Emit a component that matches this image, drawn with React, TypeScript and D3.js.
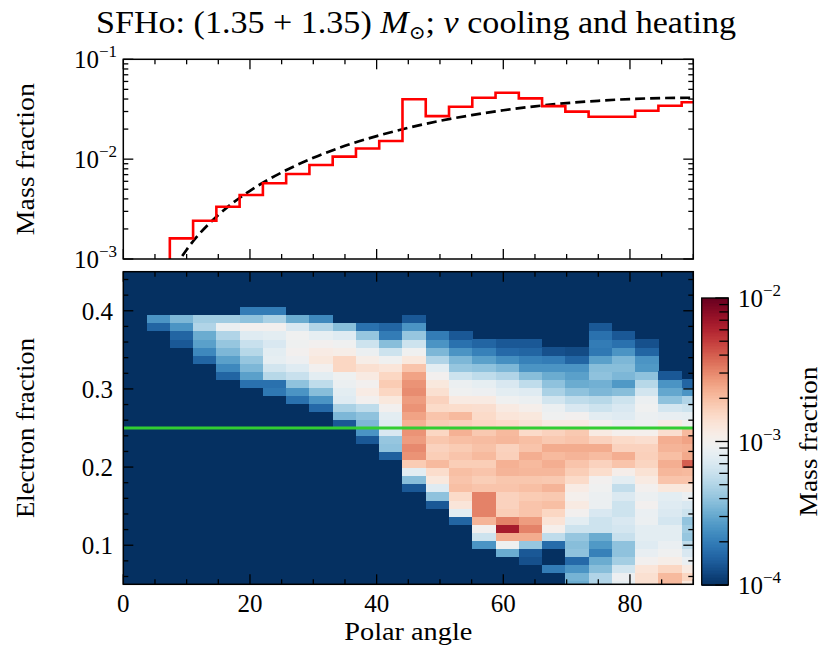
import React from 'react';
import * as d3 from 'd3';

// ---------- data ----------
const angleMajorTicks = [0, 20, 40, 60, 80];
const yeMajorTicks = [0.1, 0.2, 0.3, 0.4];
const angleBinWidth = 180 / 49; // degrees per polar-angle bin
const yeBinWidth = 0.0103;
const yeBinOffset = 0.0031;
const yeCut = 0.25;

// top panel: mass fraction per polar-angle bin (histogram)
const histMass = [
  1e-5, 4e-4, 1.61e-3, 2.42e-3, 3.34e-3, 4.37e-3, 5.73e-3, 7.1e-3, 8.73e-3, 1.06e-2,
  1.28e-2, 1.52e-2, 3.98e-2, 2.7e-2, 3.35e-2, 4.12e-2, 4.62e-2, 4.06e-2, 3.4e-2, 2.99e-2,
  2.66e-2, 2.66e-2, 3.05e-2, 3.43e-2, 3.71e-2,
];

// top panel: dashed reference curve (angle, mass fraction)
const fitAngle = [8, 9, 10, 12, 15, 20, 25, 30, 35, 40, 45, 50, 55, 60, 65, 70, 75, 80, 85, 90];
const fitMass = [
  8.0e-4, 1.0e-3, 1.24e-3, 1.78e-3, 2.76e-3, 4.82e-3, 7.36e-3, 1.03e-2, 1.36e-2, 1.7e-2,
  2.06e-2, 2.42e-2, 2.76e-2, 3.09e-2, 3.38e-2, 3.64e-2, 3.84e-2, 4.0e-2, 4.09e-2, 4.12e-2,
];

// bottom panel: first Ye-bin index per angle column, then log10(mass fraction) going up
const heatStart = [37, 36, 34, 32, 30, 29, 28, 27, 26, 24, 22, 20, 16, 14, 12, 9, 8, 7, 6, 4, 4, 4, 4, 4, 4];
const heatLog = [
  [],
  [-3.8, -3.6],
  [-3.85, -3.8, -3.6, -3.45],
  [-3.8, -3.65, -3.55, -3.5, -3.3, -3.35],
  [-3.8, -3.65, -3.55, -3.45, -3.38, -3.3, -3.05, -3.35],
  [-3.75, -3.55, -3.45, -3.38, -3.28, -3.22, -3.12, -3.0, -3.4, -3.7],
  [-3.72, -3.75, -3.28, -3.18, -3.08, -3.1, -3.15, -3.1, -3.0, -3.32, -3.7],
  [-3.75, -3.6, -3.4, -3.22, -3.12, -3.04, -3.0, -3.03, -3.02, -3.15, -3.5],
  [-3.78, -3.6, -3.42, -3.25, -3.1, -3.0, -2.9, -2.93, -3.0, -3.08, -3.3, -3.65],
  [-3.85, -3.45, -3.32, -3.12, -3.1, -3.05, -3.03, -2.8, -2.8, -2.95, -3.02, -3.12, -3.42],
  [-3.85, -3.6, -3.45, -3.4, -3.25, -3.0, -2.93, -3.0, -2.92, -2.85, -2.95, -3.05, -3.2, -3.38, -3.75],
  [-3.82, -3.4, -3.38, -3.15, -3.12, -3.1, -3.0, -2.9, -2.8, -2.75, -2.8, -2.88, -3.02, -3.2, -3.42, -3.7, -3.8],
  [-3.85, -3.42, -3.1, -2.75, -2.55, -2.52, -2.58, -2.55, -2.65, -2.6, -2.55, -2.58, -2.53, -2.55, -2.6, -2.72, -2.9, -3.02, -3.2, -3.38, -3.6, -3.85],
  [-3.85, -3.4, -3.12, -2.9, -2.83, -2.68, -2.76, -2.78, -2.73, -2.8, -2.75, -2.72, -2.82, -2.78, -2.85, -2.9, -3.0, -3.1, -3.3, -3.45, -3.6, -3.7],
  [-3.8, -3.1, -2.88, -2.82, -2.7, -2.72, -2.7, -2.76, -2.72, -2.75, -2.7, -2.65, -2.77, -2.68, -2.83, -2.92, -3.02, -3.05, -3.2, -3.38, -3.45, -3.6, -3.75, -3.85],
  [-3.6, -3.2, -3.0, -2.66, -2.5, -2.5, -2.5, -2.72, -2.76, -2.72, -2.76, -2.68, -2.71, -2.69, -2.74, -2.8, -2.82, -2.84, -2.92, -3.04, -3.08, -3.25, -3.4, -3.55, -3.68, -3.8],
  [-3.5, -3.03, -2.63, -2.18, -2.5, -2.76, -2.78, -2.78, -2.72, -2.73, -2.66, -2.65, -2.77, -2.78, -2.67, -2.68, -2.82, -2.88, -2.92, -3.02, -3.1, -3.15, -3.3, -3.45, -3.62, -3.78, -3.85],
  [-3.88, -3.85, -3.38, -2.63, -2.5, -2.58, -2.72, -2.72, -2.75, -2.7, -2.73, -2.67, -2.68, -2.64, -2.72, -2.7, -2.82, -2.86, -2.9, -2.97, -3.05, -3.12, -3.25, -3.42, -3.6, -3.68, -3.8, -3.85],
  [-3.7, -4.2, -4.2, -3.77, -3.25, -2.97, -2.87, -2.8, -2.7, -2.74, -2.66, -2.74, -2.67, -2.64, -2.68, -2.63, -2.74, -2.78, -2.92, -3.02, -3.05, -3.18, -3.32, -3.4, -3.5, -3.6, -3.7, -3.88],
  [-3.5, -3.47, -3.6, -3.78, -3.4, -3.42, -3.38, -3.2, -3.1, -3.0, -2.92, -2.98, -2.93, -2.82, -2.76, -2.72, -2.66, -2.63, -2.72, -2.74, -2.92, -3.0, -3.15, -3.25, -3.4, -3.5, -3.55, -3.6, -3.8, -3.9],
  [-3.3, -3.3, -3.42, -3.5, -3.68, -3.58, -3.5, -3.2, -3.2, -3.15, -3.05, -3.05, -3.02, -3.0, -2.83, -2.78, -2.69, -2.63, -2.78, -2.92, -3.0, -3.1, -3.2, -3.28, -3.45, -3.48, -3.4, -3.42, -3.55, -3.72, -3.7, -3.75, -3.85],
  [-3.08, -3.04, -3.18, -3.34, -3.4, -3.4, -3.22, -3.17, -3.15, -3.2, -3.2, -3.14, -3.24, -3.1, -2.96, -2.72, -2.64, -2.78, -2.82, -2.98, -3.06, -3.12, -3.15, -3.2, -3.42, -3.58, -3.45, -3.42, -3.45, -3.6, -3.75, -3.85],
  [-2.85, -2.85, -2.88, -3.0, -3.07, -3.12, -3.1, -3.1, -3.05, -3.06, -3.0, -3.05, -3.0, -2.92, -2.86, -2.79, -2.77, -2.78, -2.84, -2.98, -3.03, -3.05, -3.02, -3.05, -3.18, -3.28, -3.4, -3.58, -3.6, -3.8, -3.88],
  [-2.68, -2.68, -2.8, -2.95, -3.02, -3.06, -3.1, -3.1, -3.17, -3.14, -3.12, -3.1, -2.9, -2.72, -2.67, -2.64, -2.7, -2.66, -2.64, -2.84, -2.93, -3.07, -3.17, -3.4, -3.52, -3.6, -3.85],
  [-2.9, -2.8, -2.92, -3.06, -3.15, -3.25, -3.38, -3.35, -3.39, -3.2, -3.15, -3.05, -2.9, -2.72, -2.68, -2.4, -2.62, -2.65, -2.6, -2.68, -3.02, -3.08, -3.2, -3.3, -3.6, -3.8],
];

// colour scale range (log10 of mass fraction)
const colorExpRange = [-4, -2];

// ---------- layout ----------
const W = 823;
const H = 648;
const FONT = "'Liberation Serif', 'DejaVu Serif', serif";
const FS = 25;
const SUP = 17;
const X0 = 123.3;
const X1 = 693.3;
const TOP = { t: 59.3, b: 259 };
const BOT = { t: 271.7, b: 584.3 };
const CB = { l: 701.7, r: 728.3, t: 298, b: 585 };
const MAJ = 10;
const MIN = 5;

function Pow10({ x, y, exp, anchor = 'end' }: { x: number; y: number; exp: number; anchor?: string }) {
  return (
    <text x={x} y={y} fontSize={FS} textAnchor={anchor} fontFamily={FONT}>
      10
      <tspan dy={-11} fontSize={SUP}>{'\u2212' + Math.abs(exp)}</tspan>
    </text>
  );
}

export default function App() {
  const x = d3.scaleLinear().domain([0, 90]).range([X0, X1]);
  const yTop = d3.scaleLog().domain([1e-3, 1e-1]).range([TOP.b, TOP.t]);
  const yBot = d3.scaleLinear().domain([0.05, 0.45]).range([BOT.b, BOT.t]);
  const yCb = d3.scaleLinear().domain(colorExpRange).range([CB.b, CB.t]);
  const color = (lv: number) =>
    d3.interpolateRdBu(1 - Math.max(0, Math.min(1, (lv - colorExpRange[0]) / (colorExpRange[1] - colorExpRange[0]))));

  const angleMinor = d3.range(0, 91, 5);
  const yeMinor = d3.range(0.06, 0.449, 0.02);
  const logMinor: number[] = [];
  [-3, -2].forEach((d) => d3.range(2, 10).forEach((m) => logMinor.push(m * Math.pow(10, d))));
  const cbMinor: number[] = [];
  [-4, -3].forEach((d) => d3.range(2, 10).forEach((m) => cbMinor.push(Math.log10(m * Math.pow(10, d)))));

  // histogram step path
  const nb = histMass.length;
  const stepPts: [number, number][] = histMass.map((v, i) => [i * angleBinWidth, v]);
  stepPts.push([Math.min(nb * angleBinWidth, 90), histMass[nb - 1]]);
  const stepLine = d3
    .line<[number, number]>()
    .x((d) => x(Math.min(d[0], 90)))
    .y((d) => yTop(d[1]))
    .curve(d3.curveStepAfter);
  const fitLine = d3
    .line<number>()
    .x((_, i) => x(fitAngle[i]))
    .y((d) => yTop(d))
    .curve(d3.curveMonotoneX);

  const cells: JSX.Element[] = [];
  heatLog.forEach((col, i) => {
    const a0 = i * angleBinWidth;
    const a1 = Math.min((i + 1) * angleBinWidth, 90);
    col.forEach((lv, j) => {
      if (lv <= -4) return;
      const k = heatStart[i] + j;
      const ye0 = Math.max(0.05, yeBinOffset + k * yeBinWidth);
      const ye1 = Math.min(0.45, yeBinOffset + (k + 1) * yeBinWidth);
      if (ye1 <= ye0) return;
      cells.push(
        <rect
          key={`c${i}-${k}`}
          x={x(a0)}
          y={yBot(ye1)}
          width={x(a1) - x(a0) + 0.3}
          height={yBot(ye0) - yBot(ye1) + 0.3}
          fill={color(lv)}
        />
      );
    });
  });

  const cbSlices = d3.range(0, 200).map((s) => {
    const e0 = colorExpRange[0] + (s / 200) * 2;
    const e1 = colorExpRange[0] + ((s + 1) / 200) * 2;
    return <rect key={`s${s}`} x={CB.l} y={yCb(e1)} width={CB.r - CB.l} height={yCb(e0) - yCb(e1) + 0.5} fill={color((e0 + e1) / 2)} />;
  });

  const stroke = '#000';
  const tw = 1.3;

  const xTicks = (yb: number, yt: number, prefix: string) => (
    <g key={prefix}>
      {angleMinor.map((a) => {
        const len = a % 20 === 0 ? MAJ : MIN;
        return (
          <g key={`${prefix}${a}`}>
            <line x1={x(a)} x2={x(a)} y1={yb} y2={yb - len} stroke={stroke} strokeWidth={tw} />
            <line x1={x(a)} x2={x(a)} y1={yt} y2={yt + len} stroke={stroke} strokeWidth={tw} />
          </g>
        );
      })}
    </g>
  );

  return (
    <svg width={W} height={H} style={{ position: 'absolute', left: 0, top: 0, background: '#fff' }} fontFamily={FONT}>
      <defs>
        <clipPath id="clipTop">
          <rect x={X0} y={TOP.t} width={X1 - X0} height={TOP.b - TOP.t} />
        </clipPath>
        <clipPath id="clipBot">
          <rect x={X0} y={BOT.t} width={X1 - X0} height={BOT.b - BOT.t} />
        </clipPath>
      </defs>

      {/* title */}
      <text x={416} y={33} fontSize={32} textAnchor="middle" textLength={640} lengthAdjust="spacingAndGlyphs">
        SFHo: (1.35 + 1.35)
        <tspan fontStyle="italic"> M</tspan>
        <tspan dy={6} fontSize={19}>{'\u2299'}</tspan>
        <tspan dy={-6}>; </tspan>
        <tspan fontStyle="italic">{'\u03BD'}</tspan> cooling and heating
      </text>

      {/* ---------- top panel ---------- */}
      <g clipPath="url(#clipTop)">
        <path d={fitLine(fitMass) || ''} fill="none" stroke="#000" strokeWidth={2.7} strokeDasharray="10,5" />
        <path d={stepLine(stepPts) || ''} fill="none" stroke="#ff0000" strokeWidth={2.6} />
      </g>
      <rect x={X0} y={TOP.t} width={X1 - X0} height={TOP.b - TOP.t} fill="none" stroke={stroke} strokeWidth={1.5} />
      {xTicks(TOP.b, TOP.t, 'tx')}
      {[1e-3, 1e-2, 1e-1].map((v) => (
        <g key={`tM${v}`}>
          <line x1={X0} x2={X0 + MAJ} y1={yTop(v)} y2={yTop(v)} stroke={stroke} strokeWidth={tw} />
          <line x1={X1} x2={X1 - MAJ} y1={yTop(v)} y2={yTop(v)} stroke={stroke} strokeWidth={tw} />
        </g>
      ))}
      {logMinor.map((v) => (
        <g key={`tm${v}`}>
          <line x1={X0} x2={X0 + MIN} y1={yTop(v)} y2={yTop(v)} stroke={stroke} strokeWidth={tw} />
          <line x1={X1} x2={X1 - MIN} y1={yTop(v)} y2={yTop(v)} stroke={stroke} strokeWidth={tw} />
        </g>
      ))}
      {[-3, -2, -1].map((e) => (
        <Pow10 key={`tl${e}`} x={117} y={yTop(Math.pow(10, e)) + 9} exp={e} />
      ))}
      <text
        transform={`translate(34,${(TOP.t + TOP.b) / 2}) rotate(-90)`}
        fontSize={FS}
        textAnchor="middle"
        textLength={152}
        lengthAdjust="spacingAndGlyphs"
      >
        Mass fraction
      </text>

      {/* ---------- bottom panel ---------- */}
      <g clipPath="url(#clipBot)" shapeRendering="crispEdges">
        <rect x={X0} y={BOT.t} width={X1 - X0} height={BOT.b - BOT.t} fill={color(colorExpRange[0])} />
        {cells}
      </g>
      <line x1={X0} x2={X1} y1={yBot(yeCut)} y2={yBot(yeCut)} stroke="#32cd32" strokeWidth={3} />
      <rect x={X0} y={BOT.t} width={X1 - X0} height={BOT.b - BOT.t} fill="none" stroke={stroke} strokeWidth={1.5} />
      {xTicks(BOT.b, BOT.t, 'bx')}
      {yeMinor.map((v) => {
        const major = yeMajorTicks.some((m) => Math.abs(m - v) < 1e-6);
        const len = major ? MAJ : MIN;
        return (
          <g key={`by${v.toFixed(2)}`}>
            <line x1={X0} x2={X0 + len} y1={yBot(v)} y2={yBot(v)} stroke={stroke} strokeWidth={tw} />
            <line x1={X1} x2={X1 - len} y1={yBot(v)} y2={yBot(v)} stroke={stroke} strokeWidth={tw} />
          </g>
        );
      })}
      {yeMajorTicks.map((v) => (
        <text key={`byl${v}`} x={113} y={yBot(v) + 9} fontSize={FS} textAnchor="end">
          {v.toFixed(1)}
        </text>
      ))}
      {angleMajorTicks.map((a) => (
        <text key={`bxl${a}`} x={x(a)} y={612} fontSize={FS} textAnchor="middle">
          {a}
        </text>
      ))}
      <text x={(X0 + X1) / 2} y={640} fontSize={FS} textAnchor="middle" textLength={128} lengthAdjust="spacingAndGlyphs">
        Polar angle
      </text>
      <text
        transform={`translate(34,${(BOT.t + BOT.b) / 2}) rotate(-90)`}
        fontSize={FS}
        textAnchor="middle"
        textLength={180}
        lengthAdjust="spacingAndGlyphs"
      >
        Electron fraction
      </text>

      {/* ---------- colorbar ---------- */}
      <g shapeRendering="crispEdges">{cbSlices}</g>
      <rect x={CB.l} y={CB.t} width={CB.r - CB.l} height={CB.b - CB.t} fill="none" stroke={stroke} strokeWidth={1.3} />
      {cbMinor.map((e) => (
        <line key={`cbm${e}`} x1={CB.r} x2={CB.r - 9} y1={yCb(e)} y2={yCb(e)} stroke={stroke} strokeWidth={tw} />
      ))}
      {[-4, -3, -2].map((e) => (
        <g key={`cbM${e}`}>
          <line x1={CB.r} x2={CB.r - 13} y1={yCb(e)} y2={yCb(e)} stroke={stroke} strokeWidth={tw} />
          <Pow10 x={738} y={yCb(e) + 9} exp={e} anchor="start" />
        </g>
      ))}
      <text
        transform={`translate(817,${(CB.t + CB.b) / 2}) rotate(-90)`}
        fontSize={FS}
        textAnchor="middle"
        textLength={150}
        lengthAdjust="spacingAndGlyphs"
      >
        Mass fraction
      </text>
    </svg>
  );
}
